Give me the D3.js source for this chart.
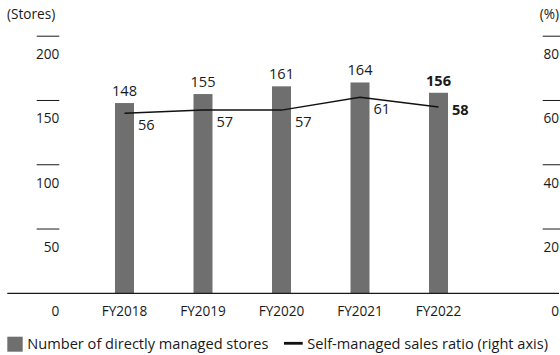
<!DOCTYPE html>
<html>
<head>
<meta charset="utf-8">
<script src="https://cdn.jsdelivr.net/npm/d3@7"></script>
<style>
  html, body { margin: 0; padding: 0; background: #fff; }
  svg { display: block; font-family: "Open Sans", "Noto Sans", sans-serif; }
  text { fill: #1a1a1a; }
</style>
</head>
<body>
<svg id="chart" width="560" height="355"></svg>
<script>
// Fiscal years
const years = ["FY2018", "FY2019", "FY2020", "FY2021", "FY2022"];
// Number of directly managed stores (left axis)
const stores = [148, 155, 161, 164, 156];
// Self-managed sales ratio, % (right axis)
const ratio = [56, 57, 57, 61, 58];
// Axis ticks
const leftTicks = [0, 50, 100, 150, 200];
const rightTicks = [0, 20, 40, 60, 80];

const svg = d3.select("#chart");
const barColor = "#6f6f6f";
const axisFont = 13.6;
const valueFont = 14.6;

const x = d3.scaleBand()
  .domain(years)
  .range([85, 478])
  .paddingInner(0.758)
  .paddingOuter(0.382);

const yL = d3.scaleLinear().domain([0, 200]).range([293.3, 36.2]);
const yR = d3.scaleLinear().domain([0, 80]).range([293.3, 36.2]);

const cx = d => x(d) + x.bandwidth() / 2;

// Unit captions
svg.append("text").attr("x", 7).attr("y", 18.5)
  .attr("font-size", axisFont).text("(Stores)");
svg.append("text").attr("x", 559).attr("y", 18.5)
  .attr("text-anchor", "end").attr("font-size", axisFont).text("(%)");

// Left axis: short dash above each tick value, label underneath
const lt = svg.append("g");
leftTicks.forEach(v => {
  if (v > 0) {
    lt.append("line").attr("x1", 36.7).attr("x2", 59.3)
      .attr("y1", yL(v)).attr("y2", yL(v))
      .attr("stroke", "#1a1a1a").attr("stroke-width", 1);
  }
  lt.append("text").attr("x", 59.3).attr("y", yL(v) + 23)
    .attr("text-anchor", "end").attr("font-size", axisFont).text(v);
});

// Right axis
const rt = svg.append("g");
rightTicks.forEach(v => {
  if (v > 0) {
    rt.append("line").attr("x1", 542.7).attr("x2", 560)
      .attr("y1", yR(v)).attr("y2", yR(v))
      .attr("stroke", "#1a1a1a").attr("stroke-width", 1);
  }
  rt.append("text").attr("x", 559).attr("y", yR(v) + 23)
    .attr("text-anchor", "end").attr("font-size", axisFont).text(v);
});

// Bars
svg.append("g").selectAll("rect")
  .data(years)
  .join("rect")
  .attr("x", d => x(d))
  .attr("width", x.bandwidth())
  .attr("y", (d, i) => yL(stores[i]))
  .attr("height", (d, i) => yL(0) - yL(stores[i]))
  .attr("fill", barColor);

// Baseline
svg.append("line").attr("x1", 7.3).attr("x2", 559)
  .attr("y1", 293.3).attr("y2", 293.3)
  .attr("stroke", "#1a1a1a").attr("stroke-width", 1.2);

// Category labels
svg.append("g").selectAll("text")
  .data(years)
  .join("text")
  .attr("x", d => cx(d))
  .attr("y", 316)
  .attr("text-anchor", "middle")
  .attr("font-size", axisFont)
  .text(d => d);

// Bar value labels (latest year in bold)
const last = years.length - 1;
svg.append("g").selectAll("text")
  .data(years)
  .join("text")
  .attr("x", d => cx(d))
  .attr("y", (d, i) => yL(stores[i]) - 7)
  .attr("text-anchor", "middle")
  .attr("font-size", valueFont)
  .attr("font-weight", (d, i) => i === last ? 700 : 400)
  .text((d, i) => stores[i]);

// Ratio line
const line = d3.line()
  .x((d, i) => cx(years[i]))
  .y(d => yR(d));
svg.append("path")
  .datum(ratio)
  .attr("d", line)
  .attr("fill", "none")
  .attr("stroke", "#111")
  .attr("stroke-width", 1.5);

// Ratio value labels
svg.append("g").selectAll("text")
  .data(ratio)
  .join("text")
  .attr("x", (d, i) => cx(years[i]) + 13.5)
  .attr("y", (d, i) => yR(d) + (i === last ? 8 : 17))
  .attr("font-size", valueFont)
  .attr("font-weight", (d, i) => i === last ? 700 : 400)
  .text(d => d);

// Legend
const lg = svg.append("g");
lg.append("rect").attr("x", 7.3).attr("y", 336.7)
  .attr("width", 15.4).attr("height", 15).attr("fill", barColor);
lg.append("text").attr("x", 27.3).attr("y", 349)
  .attr("font-size", valueFont).text("Number of directly managed stores");
lg.append("line").attr("x1", 284).attr("x2", 302.7)
  .attr("y1", 343.3).attr("y2", 343.3)
  .attr("stroke", "#111").attr("stroke-width", 2.8);
lg.append("text").attr("x", 307.3).attr("y", 349)
  .attr("font-size", valueFont).text("Self-managed sales ratio (right axis)");
</script>
</body>
</html>
